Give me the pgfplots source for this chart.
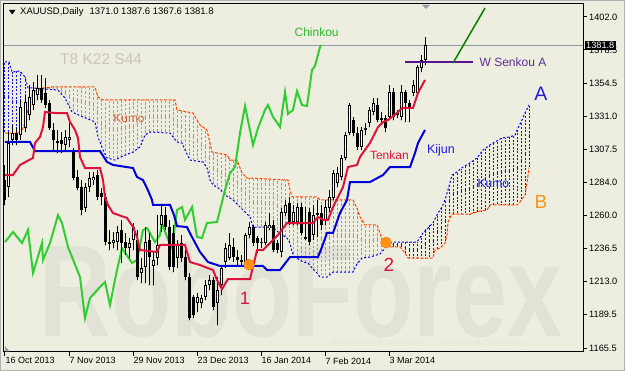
\documentclass[border=0pt]{standalone}
\usepackage{fontspec}
\setmainfont{Liberation Sans}
\usepackage{pgfplots}
\pgfplotsset{compat=1.18}
\usepackage{pgfplotstable}

\definecolor{bg}{RGB}{238,238,224}
\definecolor{wm}{RGB}{226,227,214}
\definecolor{tenkan}{RGB}{220,20,60}
\definecolor{kijun}{RGB}{0,0,215}
\definecolor{chinkou}{RGB}{50,205,50}
\definecolor{senA}{RGB}{0,0,235}
\definecolor{senB}{RGB}{255,69,0}
\definecolor{hatchO}{RGB}{244,125,90}
\definecolor{hatchB}{RGB}{20,20,225}
\definecolor{pline}{RGB}{140,155,165}
\definecolor{dotorange}{RGB}{255,145,20}
\definecolor{wsen}{RGB}{85,20,140}
\definecolor{wsentext}{RGB}{95,45,145}
\definecolor{tgrey}{RGB}{202,196,192}
\definecolor{labB}{RGB}{247,148,30}
\definecolor{labblue}{RGB}{30,30,220}

\pgfplotsset{nomark/.style={only marks, mark size=0.01pt}}

% Senkou A and B value at each bar (cloud)
\pgfplotstableread{
i a b
0 1369.9 1319.1
1 1369.9 1319.1
2 1362.8 1319.1
3 1363.1 1319.1
4 1362.5 1320.8
5 1359.1 1326.3
6 1351.3 1339.2
7 1351.3 1348.4
8 1351.1 1349.6
9 1350.9 1350.7
10 1350.6 1351.5
11 1350.3 1351.8
12 1350.1 1352.0
13 1349.9 1352.0
14 1347.4 1352.0
15 1344.1 1352.0
16 1338.4 1352.0
17 1333.8 1352.0
18 1332.5 1352.0
19 1331.2 1352.0
20 1330.0 1352.0
21 1328.8 1352.0
22 1327.6 1352.0
23 1319.9 1347.2
24 1308.9 1343.5
25 1304.2 1342.7
26 1300.9 1342.7
27 1300.2 1342.7
28 1300.5 1342.7
29 1302.0 1342.7
30 1303.3 1342.7
31 1304.4 1342.7
32 1305.5 1342.7
33 1307.6 1342.7
34 1310.8 1342.7
35 1317.7 1342.7
36 1319.4 1342.7
37 1319.7 1342.7
38 1319.6 1342.7
39 1319.4 1342.7
40 1319.3 1342.7
41 1319.1 1342.7
42 1315.4 1342.7
43 1312.7 1335.6
44 1312.1 1335.0
45 1307.1 1334.5
46 1301.2 1333.9
47 1299.5 1333.4
48 1299.0 1328.4
49 1298.6 1323.8
50 1296.3 1322.3
51 1288.4 1315.0
52 1282.0 1305.4
53 1280.3 1304.8
54 1278.2 1304.2
55 1274.8 1303.7
56 1273.0 1301.0
57 1271.3 1299.8
58 1268.4 1299.8
59 1265.5 1292.4
60 1262.7 1288.4
61 1259.8 1286.9
62 1251.9 1286.8
63 1251.9 1286.6
64 1251.9 1286.5
65 1251.9 1286.3
66 1251.9 1286.2
67 1251.9 1286.1
68 1249.1 1285.9
69 1246.5 1285.8
70 1245.1 1285.6
71 1241.7 1276.0
72 1232.9 1273.5
73 1229.6 1273.5
74 1227.8 1273.5
75 1226.6 1273.5
76 1225.3 1273.5
77 1221.9 1273.5
78 1219.1 1273.5
79 1216.2 1271.3
80 1216.2 1271.3
81 1217.4 1271.3
82 1219.8 1271.3
83 1219.8 1271.3
84 1219.8 1271.3
85 1219.8 1271.3
86 1219.8 1271.3
87 1219.8 1271.3
88 1225.5 1265.5
89 1228.9 1257.2
90 1230.1 1253.4
91 1230.4 1253.4
92 1231.2 1253.4
93 1232.0 1253.4
94 1233.5 1245.5
95 1236.9 1239.6
96 1240.6 1237.7
97 1241.2 1237.7
98 1241.2 1237.7
99 1241.2 1236.4
100 1241.2 1233.4
101 1241.2 1229.8
102 1241.2 1229.8
103 1241.2 1229.8
104 1245.5 1229.8
105 1250.5 1229.8
106 1254.0 1229.8
107 1254.8 1229.8
108 1260.6 1236.0
109 1265.2 1237.6
110 1271.3 1240.5
111 1281.1 1259.5
112 1289.5 1261.2
113 1291.3 1261.2
114 1293.6 1261.2
115 1296.0 1261.2
116 1297.3 1261.2
117 1299.2 1261.9
118 1301.3 1262.7
119 1305.1 1263.5
120 1308.0 1263.9
121 1310.1 1266.5
122 1311.9 1267.7
123 1313.6 1267.7
124 1315.2 1267.7
125 1315.9 1267.7
126 1316.2 1267.7
127 1317.1 1267.7
128 1321.0 1267.7
129 1327.0 1270.8
130 1333.4 1274.8
131 1339.1 1294.2
}\cloud

\pgfplotstableread{
i o h l c
1 1280.5 1319.8 1273.4 1312.0
2 1314.1 1324.8 1310.5 1319.1
4 1317.7 1342.7 1314.1 1337.7
5 1322.7 1346.3 1319.8 1341.3
6 1332.0 1353.4 1328.4 1344.8
7 1339.1 1355.6 1335.6 1349.8
8 1346.3 1360.6 1342.7 1351.3
15 1310.5 1321.3 1307.0 1316.3
16 1314.1 1326.3 1309.1 1316.3
20 1265.5 1283.4 1262.7 1280.5
21 1280.5 1291.3 1277.0 1287.0
22 1285.5 1291.3 1282.0 1287.7
27 1240.5 1248.4 1236.9 1242.7
28 1241.3 1252.7 1235.5 1248.4
31 1237.0 1244.1 1229.8 1240.5
32 1242.7 1254.8 1235.5 1252.0
34 1219.1 1229.8 1211.9 1222.7
35 1223.4 1252.0 1211.9 1241.3
37 1224.1 1234.1 1210.5 1228.4
38 1229.8 1260.5 1224.8 1239.1
39 1253.4 1267.7 1248.4 1260.5
43 1229.8 1242.7 1222.7 1239.1
48 1197.6 1204.8 1191.2 1201.9
49 1197.6 1203.4 1194.1 1201.2
50 1201.9 1214.1 1199.8 1210.5
51 1210.5 1217.7 1206.9 1214.1
53 1197.6 1216.2 1181.9 1206.9
54 1210.5 1224.8 1203.4 1222.7
55 1226.9 1240.5 1222.7 1237.0
56 1229.8 1247.7 1228.4 1239.1
59 1227.0 1232.0 1224.1 1228.4
60 1226.2 1247.7 1224.8 1246.2
61 1246.2 1255.5 1244.1 1252.0
64 1240.5 1244.1 1236.9 1241.3
65 1240.5 1255.5 1239.1 1253.4
66 1251.2 1261.9 1249.8 1253.4
69 1234.1 1265.5 1230.5 1262.7
70 1261.9 1271.3 1259.8 1267.7
72 1255.5 1267.7 1253.4 1262.7
73 1255.5 1269.1 1253.4 1266.2
77 1246.2 1267.7 1242.7 1260.5
78 1260.5 1271.3 1244.8 1261.9
80 1257.0 1271.3 1253.4 1266.2
81 1265.5 1278.4 1262.7 1273.4
82 1272.7 1292.7 1271.3 1290.5
83 1283.4 1294.8 1280.5 1290.5
84 1287.7 1303.4 1285.5 1301.3
85 1301.3 1319.8 1299.8 1317.7
86 1319.1 1340.6 1317.7 1339.1
89 1309.1 1323.4 1307.0 1321.3
90 1321.3 1326.3 1317.7 1322.7
91 1326.3 1337.7 1323.4 1335.6
92 1334.1 1344.1 1332.0 1340.6
96 1330.6 1353.4 1328.4 1348.4
99 1330.6 1353.4 1328.4 1348.4
102 1347.7 1357.0 1345.6 1353.4
103 1347.7 1367.7 1346.3 1366.3
104 1365.6 1374.9 1362.7 1371.3
105 1371.0 1387.6 1367.6 1381.8
}\upc

\pgfplotstableread{
i o h l c
0 1285.5 1296.3 1267.7 1271.3
3 1319.1 1322.7 1310.5 1314.1
9 1351.3 1360.6 1340.6 1342.7
10 1347.7 1358.4 1337.0 1339.1
11 1340.6 1342.7 1321.3 1322.7
12 1321.3 1326.3 1307.0 1314.1
13 1313.4 1321.3 1304.8 1312.0
14 1314.1 1319.8 1304.8 1311.3
17 1305.6 1308.4 1285.5 1287.0
18 1287.7 1292.7 1278.4 1279.8
19 1280.5 1285.5 1260.5 1264.1
23 1289.1 1292.7 1271.3 1273.4
24 1276.2 1279.8 1267.7 1273.4
25 1273.4 1276.2 1239.1 1241.3
26 1241.3 1249.8 1235.5 1239.8
29 1249.8 1257.0 1226.2 1240.5
30 1241.3 1247.7 1232.0 1237.0
33 1242.7 1249.8 1214.1 1216.3
36 1242.7 1247.7 1210.5 1230.5
40 1260.5 1266.3 1249.8 1252.0
41 1252.0 1257.0 1221.2 1223.4
42 1247.7 1253.4 1219.8 1223.4
44 1240.5 1246.2 1227.0 1229.8
45 1230.5 1235.5 1214.1 1216.3
46 1216.3 1219.1 1185.5 1186.9
47 1201.9 1203.4 1186.9 1189.1
52 1214.1 1216.2 1192.6 1194.8
57 1237.7 1244.1 1227.0 1230.5
58 1230.5 1235.5 1224.8 1228.4
62 1252.0 1253.4 1238.4 1240.5
63 1244.1 1245.5 1233.4 1240.5
67 1253.4 1257.0 1234.1 1235.5
68 1240.5 1242.7 1233.4 1235.5
71 1269.1 1273.4 1253.4 1255.5
74 1266.2 1269.1 1246.2 1247.7
75 1244.8 1266.2 1242.7 1244.1
76 1262.7 1265.5 1239.1 1241.3
79 1261.9 1267.7 1249.8 1253.4
87 1328.4 1330.6 1317.0 1319.1
88 1319.1 1323.4 1307.0 1309.1
93 1339.1 1344.1 1327.0 1328.4
94 1329.8 1334.1 1324.8 1328.4
95 1329.8 1332.0 1319.8 1322.7
97 1348.4 1351.3 1328.4 1330.6
98 1333.4 1335.6 1329.8 1332.0
100 1348.4 1349.8 1327.0 1340.6
101 1340.6 1342.7 1327.0 1337.7
}\dnc

\begin{document}
\begin{tikzpicture}[x=1pt,y=1pt]
\fill[bg] (0,0) rectangle (625,371);
\draw[gray!60, line width=1pt] (0.5,0.5) rectangle (624.5,370.5);
% watermark
\node[text=wm, font=\bfseries\fontsize{131}{131}\selectfont, xscale=0.755, inner sep=0pt] at (301,81) {RoboForex};
\node[text=wm!70!bg, font=\fontsize{8.5}{9}\selectfont, inner sep=0pt] at (428,28) {ИСПОЛЬЗУЙ РОБОТОВ — ПОЛУЧАЙ ПРИБЫЛЬ};

\begin{axis}[
  at={(4pt,19pt)}, anchor=south west, scale only axis,
  width=579pt, height=348pt,
  xmin=-0.25, xmax=144.5, ymin=1162.65, ymax=1411.29,
  axis line style={black, line width=1pt},
  clip mode=individual,
  xtick={0,16,32,48,64,80,96},
  xticklabels={16 Oct 2013, 7 Nov 2013, 29 Nov 2013, 23 Dec 2013, 16 Jan 2014, 7 Feb 2014, 3 Mar 2014},
  xtick pos=bottom, ytick pos=right, yticklabel pos=right,
  tick align=outside, major tick length=4pt,
  tick style={black, line width=1pt},
  ytick={1165.5,1189.5,1213.0,1236.5,1260.0,1284.0,1307.5,1331.0,1354.5,1378.5,1402.0},
  scaled y ticks=false,
  xticklabel style={font=\fontsize{9}{10}\selectfont, anchor=north west, inner sep=0pt, xshift=0.5pt, yshift=-1.5pt},
  yticklabel style={font=\fontsize{9.2}{10}\selectfont, anchor=west, inner sep=0pt, xshift=2pt,
     /pgf/number format/.cd, fixed, fixed zerofill, precision=1, 1000 sep={}, assume math mode=true},
]
% cloud hatching: one dashed vertical line per bar between Senkou A and B
\addplot[hatchB, nomark, restrict x to domain=0:9, error bars/.cd, y dir=both, y explicit, error mark=none,
  error bar style={line width=1pt, hatchB, dash pattern=on 2pt off 1.6pt}]
  table[x=i, y expr=(\thisrow{a}+\thisrow{b})/2, y error expr={abs(\thisrow{a}-\thisrow{b})/2}] {\cloud};
\addplot[hatchO, nomark, restrict x to domain=10:95, error bars/.cd, y dir=both, y explicit, error mark=none,
  error bar style={line width=1pt, hatchO, dash pattern=on 2.5pt off 1.8pt}]
  table[x=i, y expr=(\thisrow{a}+\thisrow{b})/2, y error expr={abs(\thisrow{a}-\thisrow{b})/2}] {\cloud};
\addplot[hatchB, nomark, restrict x to domain=96:131, error bars/.cd, y dir=both, y explicit, error mark=none,
  error bar style={line width=1pt, hatchB, dash pattern=on 2pt off 1.6pt}]
  table[x=i, y expr=(\thisrow{a}+\thisrow{b})/2, y error expr={abs(\thisrow{a}-\thisrow{b})/2}] {\cloud};

% Senkou A and B boundaries
\addplot[senA, line width=1pt, dash pattern=on 2pt off 2pt] coordinates {
(0,1369.9) (1,1369.9) (1.75,1362.7) (3.75,1363.4) (5,1359.1) (5.75,1351.3) (7,1351.3)
(13.25,1349.8) (15,1344.1) (16.75,1334.1) (19.5,1330.6) (22.5,1327.0) (23.25,1316.3)
(24.5,1307.0) (25.5,1301.3) (27.5,1299.8) (29.5,1302.7) (32,1305.5) (33.75,1309.1)
(35,1317.7) (36.25,1319.8) (41.25,1319.1) (43,1312.7) (44.25,1312.0) (45.25,1305.5)
(46.25,1299.8) (49.5,1298.4) (50.5,1294.1) (51.25,1285.5) (52,1282.0) (53.75,1279.1)
(55,1274.8) (57,1271.3) (59.5,1264.1) (61.25,1259.1) (62,1251.9) (67,1251.9)
(68.25,1248.4) (70.5,1244.1) (71.25,1240.5) (71.75,1234.1) (72.5,1230.5) (74.5,1226.9)
(75.75,1226.2) (76.75,1222.6) (78,1219.1) (78.75,1216.2) (80.5,1216.2) (82,1219.8)
(87,1219.8) (88,1225.5) (89.25,1229.8) (91.25,1230.5) (93.75,1232.7) (95,1236.9)
(95.75,1240.5) (97,1241.2) (103,1241.2) (104.5,1247.7) (105.75,1251.2) (107,1254.8)
(108.25,1262.0) (109.25,1266.2) (110,1271.3) (110.75,1278.4) (111.75,1289.1) (113,1291.3)
(114.5,1294.8) (116.25,1297.7) (118,1301.3) (119.5,1307.0) (121.25,1310.6) (122.5,1312.7)
(124.25,1315.6) (126.25,1316.3) (127.5,1317.7) (128.25,1322.7) (129.25,1328.4) (130,1333.4)
(131,1339.1)};
\addplot[senB, line width=1pt, dash pattern=on 3pt off 1.5pt] coordinates {
(0,1319.1) (3.25,1319.1) (4.25,1321.3) (5,1326.3) (5.75,1335.6) (6.25,1342.7) (7,1348.4)
(9.5,1351.3) (11.75,1352.0) (22.5,1352.0) (23.25,1344.8) (24.5,1342.7) (42.5,1342.7)
(43,1335.6) (47,1333.4) (48,1328.4) (48.75,1324.8) (50.5,1321.3) (51.75,1305.5)
(55.5,1303.4) (56.25,1299.8) (58,1299.8) (59.25,1290.5) (60.5,1287.0) (70.75,1285.5)
(71.25,1278.5) (71.75,1273.5) (78,1273.5) (78.75,1271.3) (87,1271.3) (88,1265.5)
(88.75,1259.1) (90,1253.4) (93,1253.4) (93.75,1247.7) (94.5,1241.2) (95.75,1237.7)
(98.75,1237.7) (100,1233.4) (100.75,1229.8) (107,1229.8) (107.5,1235.5) (108.75,1236.9)
(110,1240.5) (110.5,1246.2) (110.75,1255.5) (111.75,1261.2) (116.25,1261.2) (118.75,1263.4)
(120.5,1264.1) (121.25,1267.7) (128,1267.7) (128.75,1269.8) (130,1274.8) (130.5,1283.6)
(131,1294.2)};

% current price line
\addplot[pline, line width=1pt] coordinates {(-0.25,1381.8) (144.5,1381.8)};

% Chinkou
\addplot[chinkou, line width=2pt] coordinates {
(0,1241.2) (2,1248.4) (4.25,1240.5) (5.75,1249.8) (7,1219.1) (9.25,1240.5) (9.5,1228.4)
(11.25,1240.5) (13.25,1260.5) (14.25,1254.8) (15.75,1237.7) (18.75,1216.2) (20,1186.9)
(21.25,1201.2) (23.75,1209.1) (25,1212.7) (26.25,1196.2) (28,1221.2) (29.25,1236.9)
(31.75,1226.2) (33,1228.4) (34.5,1249.8) (35.5,1251.2) (37.5,1241.2) (38.75,1246.2)
(39.25,1254.8) (40.5,1244.8) (41.75,1236.9) (43,1264.1) (44.25,1266.2) (45,1257.0)
(46.75,1266.2) (48,1244.8) (49.25,1244.1) (50.5,1254.8) (53,1255.5) (53.75,1264.1)
(55,1278.4) (56.25,1290.5) (57.5,1294.8) (58.75,1319.1) (60,1338.4) (62,1310.5)
(63.25,1322.7) (65,1335.6) (65.75,1339.1) (67,1330.6) (68.75,1323.4) (70,1348.4)
(70.75,1332.7) (72,1335.6) (73,1349.1) (74.25,1339.1) (75.5,1338.4) (76.75,1364.2)
(77.5,1367.0) (78.75,1380.6) (79,1382.0)};

% candles: wicks
\addplot[black, nomark, error bars/.cd, y dir=plus, y explicit, error mark=none,
  error bar style={line width=1pt, black}]
  table[x=i, y=l, y error expr=\thisrow{h}-\thisrow{l}] {\upc};
\addplot[black, nomark, error bars/.cd, y dir=plus, y explicit, error mark=none,
  error bar style={line width=1pt, black}]
  table[x=i, y=l, y error expr=\thisrow{h}-\thisrow{l}] {\dnc};
% bodies
\addplot[black, nomark, error bars/.cd, y dir=both, y explicit, error mark=none,
  error bar style={line width=3pt, black}]
  table[x=i, y expr=(\thisrow{o}+\thisrow{c})/2, y error expr={max(abs(\thisrow{c}-\thisrow{o})/2,0.36)}] {\dnc};
\addplot[black, nomark, error bars/.cd, y dir=both, y explicit, error mark=none,
  error bar style={line width=3pt, black}]
  table[x=i, y expr=(\thisrow{o}+\thisrow{c})/2, y error expr={max(abs(\thisrow{c}-\thisrow{o})/2,0.36)}] {\upc};
\addplot[white, nomark, error bars/.cd, y dir=both, y explicit, error mark=none,
  error bar style={line width=1pt, white}]
  table[x=i, y expr=(\thisrow{o}+\thisrow{c})/2, y error expr={max(abs(\thisrow{c}-\thisrow{o})/2-0.72,0)}] {\upc};

% Kijun
\addplot[kijun, line width=2pt] coordinates {
(0,1312.7) (6.25,1312.7) (7.5,1306.2) (23.75,1306.2) (25.5,1298.4) (27,1296.3) (32,1294.1)
(33,1287.7) (34.5,1285.5) (35.5,1279.8) (36.75,1271.3) (37,1267.7) (41.25,1267.7)
(42.25,1260.5) (43,1252.6) (45.5,1251.9) (46.75,1244.8) (48.75,1234.1) (50.75,1226.9)
(53.75,1224.1) (64.5,1224.1) (65.5,1221.2) (68.75,1221.2) (71.25,1230.5) (78.25,1230.5)
(79.25,1237.7) (80.5,1247.7) (82,1247.7) (83.75,1262.0) (85.5,1271.3) (86.25,1284.1)
(91.25,1284.1) (94.5,1289.1) (96.25,1294.8) (101.25,1294.8) (102.5,1304.8) (103.25,1312.0)
(105,1321.3)};
% Tenkan
\addplot[tenkan, line width=2pt] coordinates {
(0,1289.1) (2,1289.1) (3.75,1296.3) (7,1301.3) (7.5,1312.0) (8.75,1316.3) (9.5,1323.4)
(10,1334.1) (12.5,1333.4) (15.5,1333.4) (16.25,1327.0) (17.5,1321.3) (18.25,1315.5)
(18.75,1302.0) (20,1294.1) (23.75,1294.1) (24.5,1285.5) (25,1273.4) (25.75,1267.7)
(27,1261.9) (30.5,1258.4) (32,1252.0) (33,1244.8) (33.75,1235.5) (38,1234.1) (38.75,1239.1)
(45,1239.1) (46.25,1226.9) (48.75,1224.8) (52,1221.2) (53,1214.1) (54.25,1207.6)
(55.75,1214.8) (61.25,1214.8) (62,1223.4) (63,1235.5) (64.5,1235.5) (66.25,1240.5)
(68.25,1246.2) (70.5,1254.8) (77,1254.8) (78.25,1259.1) (79.5,1257.0) (80.75,1257.0)
(82,1266.2) (82.5,1269.1) (84.5,1280.5) (85.75,1294.8) (88,1296.3) (88.75,1302.0)
(90.5,1309.1) (91.25,1312.0) (92.5,1319.1) (93.25,1323.4) (94.5,1327.0) (95.75,1328.4)
(98,1333.4) (99.25,1337.0) (102,1337.0) (103.25,1347.7) (105,1357.0)};

% annotations
\addplot[wsen, line width=2pt] coordinates {(100,1369.9) (117,1369.9)};
\addplot[green!50!black, line width=1.5pt] coordinates {(112,1369.1) (120,1408.4)};
\addplot[only marks, mark=*, mark size=5.5pt, dotorange, mark options={draw=dotorange!90!black}] coordinates {(61,1225.0) (95.25,1240.9)};

\node[text=chinkou!90!black, font=\fontsize{12}{13}\selectfont] at (axis cs:77.9,1391.3) {Chinkou};
\node[text=hatchO!85!black, font=\fontsize{12}{13}\selectfont] at (axis cs:31,1329.5) {Kumo};
\node[text=tenkan, font=\fontsize{12}{13}\selectfont] at (axis cs:96.1,1303.4) {Tenkan};
\node[text=labblue, font=\fontsize{12.5}{13}\selectfont] at (axis cs:109,1307.0) {Kijun};
\node[text=labblue, font=\fontsize{12}{13}\selectfont] at (axis cs:122.1,1283.4) {Kumo};
\node[text=wsentext, font=\fontsize{12}{13}\selectfont] at (axis cs:127,1369.9) {W Senkou A};
\node[text=labblue, font=\fontsize{19.5}{20}\selectfont] at (axis cs:134,1347.0) {A};
\node[text=labB, font=\fontsize{19}{20}\selectfont] at (axis cs:134,1270.2) {B};
\node[text=tenkan, font=\fontsize{18}{19}\selectfont] at (axis cs:60,1200.9) {1};
\node[text=tenkan, font=\fontsize{19}{20}\selectfont] at (axis cs:96,1224.8) {2};

\node[fill=black, text=white, anchor=west, inner xsep=1.5pt, inner ysep=1.2pt, xshift=1.5pt, font=\fontsize{9.2}{10}\selectfont] at (axis cs:144.5,1381.8) {1381.8};
\end{axis}

% title and overlays
\fill[black] (9,361) -- (15.5,361) -- (12.25,356.5) -- cycle;
\node[anchor=west, inner sep=0pt, font=\fontsize{9.5}{11}\selectfont] at (20,358.5) {XAUUSD,Daily\hspace{6pt}1371.0 1387.6 1367.6 1381.8};
\node[anchor=west, inner sep=0pt, text=tgrey, font=\fontsize{15.5}{17}\selectfont] at (60,312) {T8 K22 S44};
\fill[pline] (422,366) -- (430,366) -- (426,362) -- cycle;
\fill[pline] (5,19.5) -- (9.5,19.5) -- (5,25) -- cycle;
\end{tikzpicture}
\end{document}
